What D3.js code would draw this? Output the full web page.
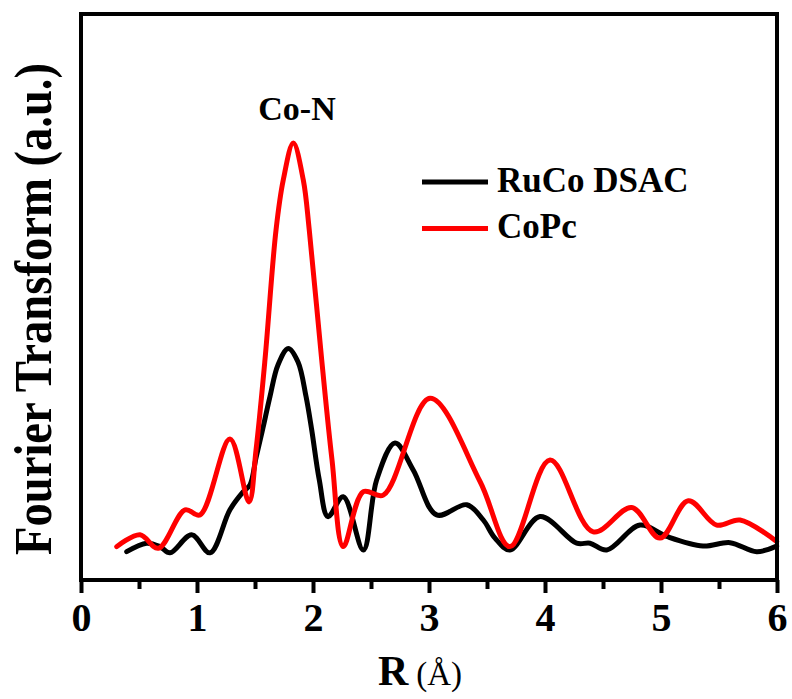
<!DOCTYPE html>
<html>
<head>
<meta charset="utf-8">
<script src="https://cdn.jsdelivr.net/npm/d3@7"></script>
<style>
  html, body { margin: 0; padding: 0; background: #fff; }
  svg { display: block; }
  text { font-family: "Liberation Serif", "Times New Roman", serif; }
</style>
</head>
<body>
<svg id="chart" width="792" height="699"></svg>
<script>
// Radial distance R (Å) for each sample of the RuCo DSAC transform
const rucoR = [0.394, 0.566, 0.681, 0.767, 0.954, 1.112, 1.284, 1.399, 1.457, 1.509, 1.569, 1.629, 1.698, 1.787, 1.871, 1.940, 1.989, 2.054, 2.129, 2.261, 2.434, 2.549, 2.707, 2.865, 3.066, 3.325, 3.468, 3.569, 3.698, 3.957, 4.273, 4.388, 4.532, 4.819, 5.049, 5.362, 5.595, 5.825, 5.997];
const rucoFT = [0.50, 0.65, 0.59, 0.48, 0.80, 0.48, 1.24, 1.56, 1.68, 2.16, 2.69, 3.24, 3.80, 4.09, 3.85, 3.24, 2.65, 1.77, 1.12, 1.47, 0.53, 1.77, 2.42, 1.94, 1.15, 1.33, 1.06, 0.74, 0.53, 1.12, 0.65, 0.65, 0.53, 0.97, 0.77, 0.60, 0.66, 0.50, 0.60];

// CoPc reference
const copcR = [0.308, 0.509, 0.666, 0.897, 1.026, 1.284, 1.448, 1.509, 1.586, 1.681, 1.744, 1.830, 1.916, 1.968, 2.075, 2.164, 2.261, 2.434, 2.606, 3.009, 3.44, 3.698, 4.043, 4.416, 4.747, 4.991, 5.235, 5.480, 5.681, 5.997];
const copcFT = [0.59, 0.80, 0.56, 1.24, 1.15, 2.49, 1.38, 2.30, 3.89, 6.18, 7.07, 7.72, 7.07, 6.18, 3.89, 2.12, 0.59, 1.56, 1.50, 3.21, 1.74, 0.59, 2.12, 0.85, 1.28, 0.74, 1.40, 0.97, 1.06, 0.68];

const seriesNames = ["RuCo DSAC", "CoPc"];
const seriesColors = ["#000000", "#ff0000"];
const xTicks = [0, 1, 2, 3, 4, 5, 6];
const xMinorTicks = [0.5, 1.5, 2.5, 3.5, 4.5, 5.5];

const svg = d3.select("#chart");
const plotLeft = 81, plotRight = 777, plotTop = 14, plotBottom = 580;

const x = d3.scaleLinear().domain([0, 6]).range([plotLeft, plotRight]);
const y = d3.scaleLinear().domain([0, 10]).range([plotBottom, plotTop]);

const series = [
  { name: seriesNames[0], color: seriesColors[0], pts: rucoR.map((r, i) => [r, rucoFT[i]]) },
  { name: seriesNames[1], color: seriesColors[1], pts: copcR.map((r, i) => [r, copcFT[i]]) }
];

const line = d3.line()
  .x(d => x(d[0]))
  .y(d => y(d[1]))
  .curve(d3.curveCatmullRom.alpha(0.5));

// curves: black first, red drawn over it
series.forEach(s => {
  svg.append("path")
    .attr("d", line(s.pts))
    .attr("fill", "none")
    .attr("stroke", s.color)
    .attr("stroke-width", 5)
    .attr("stroke-linejoin", "round")
    .attr("stroke-linecap", "round");
});

// minor ticks on the bottom axis
svg.append("g")
  .attr("transform", `translate(0,${plotBottom})`)
  .call(d3.axisBottom(x).tickValues(xMinorTicks).tickSize(9).tickSizeOuter(0).tickFormat(""))
  .call(g => g.select(".domain").remove())
  .call(g => g.selectAll("line").attr("stroke", "#000").attr("stroke-width", 4));

// major ticks + labels
svg.append("g")
  .attr("transform", `translate(0,${plotBottom})`)
  .call(d3.axisBottom(x).tickValues(xTicks).tickSize(13).tickSizeOuter(0).tickFormat(d3.format("d")))
  .call(g => g.select(".domain").remove())
  .call(g => g.selectAll("line").attr("stroke", "#000").attr("stroke-width", 4))
  .call(g => g.selectAll("text")
    .attr("y", 51)
    .attr("dy", null)
    .attr("fill", "#000")
    .attr("font-family", "'Liberation Serif', 'Times New Roman', serif")
    .attr("font-size", 40)
    .attr("font-weight", "bold"));

// frame
svg.append("rect")
  .attr("x", plotLeft).attr("y", plotTop)
  .attr("width", plotRight - plotLeft).attr("height", plotBottom - plotTop)
  .attr("fill", "none")
  .attr("stroke", "#000")
  .attr("stroke-width", 4);

// axis titles
const xt = svg.append("text")
  .attr("x", 420).attr("y", 685)
  .attr("text-anchor", "middle")
  .attr("fill", "#000");
xt.append("tspan").attr("font-size", 42).attr("font-weight", "bold").text("R");
xt.append("tspan").attr("font-size", 33).attr("dx", 8).text("(Å)");

svg.append("text")
  .attr("transform", "translate(51,309) rotate(-90)")
  .attr("text-anchor", "middle")
  .attr("font-size", 52)
  .attr("font-weight", "bold")
  .attr("fill", "#000")
  .attr("textLength", 492)
  .attr("lengthAdjust", "spacingAndGlyphs")
  .text("Fourier Transform (a.u.)");

// peak annotation
svg.append("text")
  .attr("x", 297).attr("y", 120)
  .attr("text-anchor", "middle")
  .attr("font-size", 34)
  .attr("font-weight", "bold")
  .attr("fill", "#000")
  .text("Co-N");

// legend
const legend = svg.append("g");
series.forEach((s, i) => {
  const ly = 182 + i * 46.5;
  legend.append("line")
    .attr("x1", 422).attr("x2", 488)
    .attr("y1", ly).attr("y2", ly)
    .attr("stroke", s.color)
    .attr("stroke-width", 5);
  legend.append("text")
    .attr("x", 497).attr("y", ly + 9.5)
    .attr("font-size", 35)
    .attr("font-weight", "bold")
    .attr("fill", "#000")
    .text(s.name);
});
</script>
</body>
</html>
